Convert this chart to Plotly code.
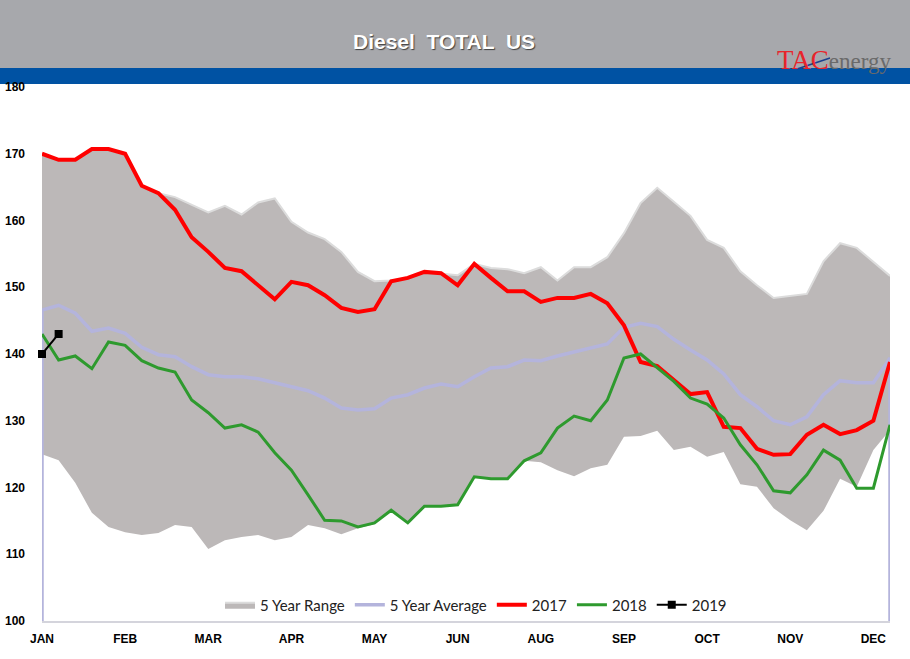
import plotly.graph_objects as go

weeks = list(range(52))
month_ticks = [0, 5, 10, 15, 20, 25, 30, 35, 40, 45, 50]
month_labels = ["JAN", "FEB", "MAR", "APR", "MAY", "JUN", "AUG", "SEP", "OCT", "NOV", "DEC"]
y_ticks = [100, 110, 120, 130, 140, 150, 160, 170, 180]

range_max = [170, 169.1, 169.1, 170.7, 170.7, 170, 165.2, 164.1, 163.5, 162.4,
             161.2, 162.2, 160.9, 162.7, 163.3, 159.8, 158.2, 157.2, 155.3, 152.3,
             150.9, 151.0, 151.4, 152.3, 152.1, 151.8, 153.5, 152.9, 152.7, 152.1,
             153.0, 151.0, 153.0, 153.0, 154.5, 158.1, 162.6, 164.9, 162.8, 160.7,
             157.1, 155.9, 152.4, 150.3, 148.4, 148.7, 149.0, 153.9, 156.6, 155.9,
             153.8, 151.7]
range_min = [125.0, 124.1, 120.7, 116.2, 114.1, 113.3, 112.9, 113.2, 114.4, 114.1,
             110.8, 112.1, 112.6, 112.9, 112.1, 112.6, 114.4, 113.9, 113.0, 113.9,
             114.5, 116.5, 114.7, 117.2, 117.2, 117.4, 121.6, 121.3, 121.3, 124.0,
             123.8, 122.6, 121.7, 122.9, 123.4, 127.6, 127.7, 128.5, 125.6, 126.1,
             124.6, 125.3, 120.5, 120.1, 116.9, 115.1, 113.6, 116.5, 121.3, 120.1,
             125.6, 128.6]
avg5 = [146.6, 147.3, 146.1, 143.4, 143.9, 143.1, 141.0, 139.9, 139.6, 138.1,
        136.9, 136.6, 136.6, 136.3, 135.7, 135.2, 134.5, 133.4, 131.9, 131.6,
        131.8, 133.4, 133.9, 134.9, 135.5, 135.1, 136.6, 137.9, 138.1, 139.1,
        139.0, 139.7, 140.3, 140.9, 141.5, 144.0, 144.6, 144.1, 142.2, 140.6,
        139.1, 137.0, 133.9, 132.1, 130.0, 129.4, 130.6, 133.9, 136.0, 135.7,
        135.7, 139.4]
y2017 = [170.0, 169.1, 169.1, 170.7, 170.7, 170.0, 165.2, 164.1, 161.6, 157.5,
         155.3, 152.9, 152.4, 150.2, 148.2, 150.8, 150.3, 148.8, 146.9, 146.3,
         146.7, 150.9, 151.4, 152.3, 152.1, 150.3, 153.5, 151.4, 149.4, 149.4,
         147.8, 148.4, 148.4, 149.0, 147.6, 144.3, 138.8, 138.2, 136.1, 134.0,
         134.3, 129.1, 128.9, 125.8, 124.9, 125.0, 127.9, 129.4, 128.0, 128.6,
         130.0, 138.8]
y2018 = [143.0, 139.1, 139.7, 137.8, 141.8, 141.3, 139.0, 137.9, 137.3, 133.1,
         131.2, 128.9, 129.4, 128.3, 125.2, 122.6, 118.9, 115.1, 115.0, 114.1,
         114.7, 116.6, 114.7, 117.2, 117.2, 117.4, 121.6, 121.3, 121.3, 124.0,
         125.2, 128.9, 130.7, 130.0, 133.1, 139.4, 140.0, 137.9, 135.9, 133.4,
         132.5, 130.4, 126.4, 123.4, 119.5, 119.2, 121.9, 125.6, 124.1, 119.9,
         119.9, 129.4]
y2019 = [140.0, 143.0]

fig = go.Figure()
fig.add_trace(go.Scatter(x=weeks, y=range_min, mode="lines", line=dict(width=0, color="rgba(0,0,0,0)"),
                         showlegend=False, hoverinfo="skip"))
fig.add_trace(go.Scatter(x=weeks, y=range_max, mode="lines", name="5 Year Range",
                         fill="tonexty", fillcolor="#bcb8b8",
                         line=dict(width=2, color="#dcdcdc")))
# 5-year average drops to zero at both ends (as in the original series)
avg_x = [weeks[0]] + weeks + [weeks[-1]]
avg_y = [0] + avg5 + [0]
fig.add_trace(go.Scatter(x=avg_x, y=avg_y, mode="lines", name="5 Year Average",
                         line=dict(width=3.5, color="#b4b4dc"), cliponaxis=False))
fig.add_trace(go.Scatter(x=weeks, y=y2017, mode="lines", name="2017",
                         line=dict(width=4, color="#ff0000")))
fig.add_trace(go.Scatter(x=weeks, y=y2018, mode="lines", name="2018",
                         line=dict(width=3, color="#2e9a2e")))
fig.add_trace(go.Scatter(x=weeks[:len(y2019)], y=y2019, mode="lines+markers", name="2019",
                         line=dict(width=2, color="#000000"),
                         marker=dict(symbol="square", size=8, color="#000000"), cliponaxis=False))

W, H = 910, 659
ml, mr, mt, mb = 42, 20, 87, 38
pw, ph = W - ml - mr, H - mt - mb

def px_x(p):
    return (p - ml) / pw

def px_y(p):
    return (H - mb - p) / ph

shapes = [
    dict(type="rect", xref="paper", yref="paper", x0=px_x(0), x1=px_x(W), y0=px_y(68), y1=px_y(0),
         fillcolor="#a7a8ac", line=dict(width=0), layer="below"),
    dict(type="rect", xref="paper", yref="paper", x0=px_x(0), x1=px_x(W), y0=px_y(84), y1=px_y(68),
         fillcolor="#0052a3", line=dict(width=0), layer="below"),
    dict(type="line", xref="paper", yref="paper", x0=px_x(797), x1=px_x(830), y0=px_y(69), y1=px_y(58),
         line=dict(width=1.5, color="#1a3f8f")),
]

annotations = [
    dict(text="<b>Diesel  TOTAL  US</b>", xref="paper", yref="paper", x=px_x(444), y=px_y(41.5),
         showarrow=False,
         font=dict(family="Liberation Sans", size=21, color="#ffffff", shadow="1px 1px 1px #404040"),
         xanchor="center", yanchor="middle"),
    dict(text="<span style='color:#e8242b'>TAC</span><span style='color:#6a6a6a;font-size:23px'>energy</span>",
         xref="paper", yref="paper", x=px_x(834), y=px_y(60), showarrow=False,
         font=dict(family="Liberation Serif", size=27), xanchor="center", yanchor="middle"),
]

fig.update_layout(
    width=W, height=H,
    margin=dict(l=ml, r=mr, t=mt, b=mb, autoexpand=False),
    paper_bgcolor="white", plot_bgcolor="white",
    showlegend=True,
    legend=dict(orientation="h", x=px_x(476), y=px_y(605), xanchor="center", yanchor="middle",
                font=dict(family="Lato", size=15, color="#222222"), bgcolor="rgba(0,0,0,0)",
                itemwidth=30, traceorder="normal"),
    shapes=shapes,
    annotations=annotations,
    xaxis=dict(range=[0, 51], tickmode="array", tickvals=month_ticks,
               ticktext=["<b>%s</b>" % m for m in month_labels], automargin=False,
               showgrid=False, zeroline=False, showline=True, linecolor="#d4d4dc", linewidth=2,
               ticks="", tickfont=dict(family="Liberation Sans", size=12, color="#000000"),
               ticklabelstandoff=6),
    yaxis=dict(range=[100, 180], tickmode="array", tickvals=y_ticks,
               ticktext=["<b>%d</b>" % v for v in y_ticks], automargin=False,
               showgrid=False, zeroline=False, showline=False, ticks="",
               tickfont=dict(family="Liberation Sans", size=12, color="#000000"),
               ticklabelstandoff=16),
)

fig.write_html("out.html")
